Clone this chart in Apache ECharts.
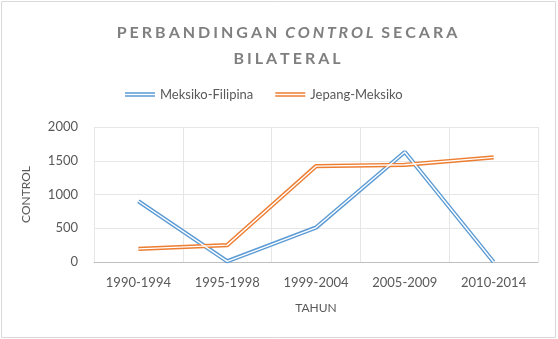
<!DOCTYPE html>
<html>
<head>
<meta charset="utf-8">
<style>
  html, body { margin: 0; padding: 0; background: #fff; }
  #chart { width: 558px; height: 339px; }
</style>
<script src="https://cdn.jsdelivr.net/npm/echarts@6/dist/echarts.min.js"></script>
</head>
<body>
<div id="chart"></div>
<script>
// Periods on the horizontal axis
const categories = ['1990-1994', '1995-1998', '1999-2004', '2005-2009', '2010-2014'];
// Control values per bilateral pair
const meksikoFilipina = [900, 10, 510, 1630, 0];
const jepangMeksiko = [195, 250, 1420, 1440, 1550];
// Vertical axis ticks
const yTicks = [0, 500, 1000, 1500, 2000];

const BLUE = '#5B9BD5';
const ORANGE = '#ED7D31';
const TEXT = '#595959';
const FONT = 'Lato';

// Spread letters apart with thin spaces for the tracked heading style
function track(s) {
  return s.split('').join('\u2009\u200A');
}

const legendIcon = 'path://M0,0H30V1.4H0ZM0,3H30V4.4H0Z';

// Each pair is drawn as a double stroke: coloured outer line plus a white core
function doubleLine(name, data, color) {
  return [
    {
      name: name, type: 'line', data: data, symbol: 'none',
      lineStyle: { color: color, width: 4.2 }, itemStyle: { color: color },
      z: 2
    },
    {
      name: name + ' core', type: 'line', data: data, symbol: 'none',
      lineStyle: { color: '#ffffff', width: 1.4 }, silent: true,
      z: 3
    }
  ];
}

const titleStyle = { fontFamily: FONT, fontWeight: 'bold', fontSize: 16, color: '#7f7f7f' };

const chart = echarts.init(document.getElementById('chart'));
chart.setOption({
  animation: false,
  backgroundColor: '#ffffff',
  title: [
    {
      text: '{a|' + track('PERBANDINGAN') + '  }{b|' + track('CONTROL') + '}{a|  ' + track('SECARA') + '}',
      left: 282, top: 20, textAlign: 'center',
      textStyle: {
        rich: {
          a: titleStyle,
          b: Object.assign({}, titleStyle, { fontStyle: 'italic' })
        }
      }
    },
    {
      text: track('BILATERAL'),
      left: 282, top: 46, textAlign: 'center',
      textStyle: titleStyle
    }
  ],
  graphic: [{
    type: 'rect', shape: { x: 1.5, y: 1.5, width: 554, height: 336 },
    style: { fill: 'none', stroke: '#d9d9d9', lineWidth: 1 }, silent: true
  }],
  legend: {
    data: [
      { name: 'Meksiko-Filipina', icon: legendIcon },
      { name: 'Jepang-Meksiko', icon: legendIcon }
    ],
    top: 83, left: 120,
    itemWidth: 30, itemHeight: 5, itemGap: 22,
    textStyle: { fontFamily: FONT, fontSize: 13, color: TEXT }
  },
  grid: { left: 94, right: 20, top: 127, bottom: 77 },
  xAxis: {
    type: 'category', data: categories, boundaryGap: true,
    name: 'TAHUN', nameLocation: 'middle', nameGap: 40,
    nameTextStyle: { fontFamily: FONT, fontSize: 12, color: TEXT },
    axisLine: { lineStyle: { color: '#bfbfbf' } },
    axisTick: { show: false },
    axisLabel: { fontFamily: FONT, fontSize: 13, color: TEXT, margin: 14 },
    splitLine: { show: true, lineStyle: { color: '#e6e6e6' } }
  },
  yAxis: {
    type: 'value', min: yTicks[0], max: yTicks[yTicks.length - 1], interval: yTicks[1] - yTicks[0],
    name: 'CONTROL', nameLocation: 'middle', nameGap: 62, nameRotate: 90,
    nameTextStyle: { fontFamily: FONT, fontSize: 12, color: TEXT },
    axisLine: { show: false }, axisTick: { show: false },
    axisLabel: { fontFamily: FONT, fontSize: 13, color: TEXT, margin: 16, formatter: v => String(v) },
    splitLine: { lineStyle: { color: '#e6e6e6' } }
  },
  series: [].concat(
    doubleLine('Meksiko-Filipina', meksikoFilipina, BLUE),
    doubleLine('Jepang-Meksiko', jepangMeksiko, ORANGE)
  )
});
</script>
</body>
</html>
